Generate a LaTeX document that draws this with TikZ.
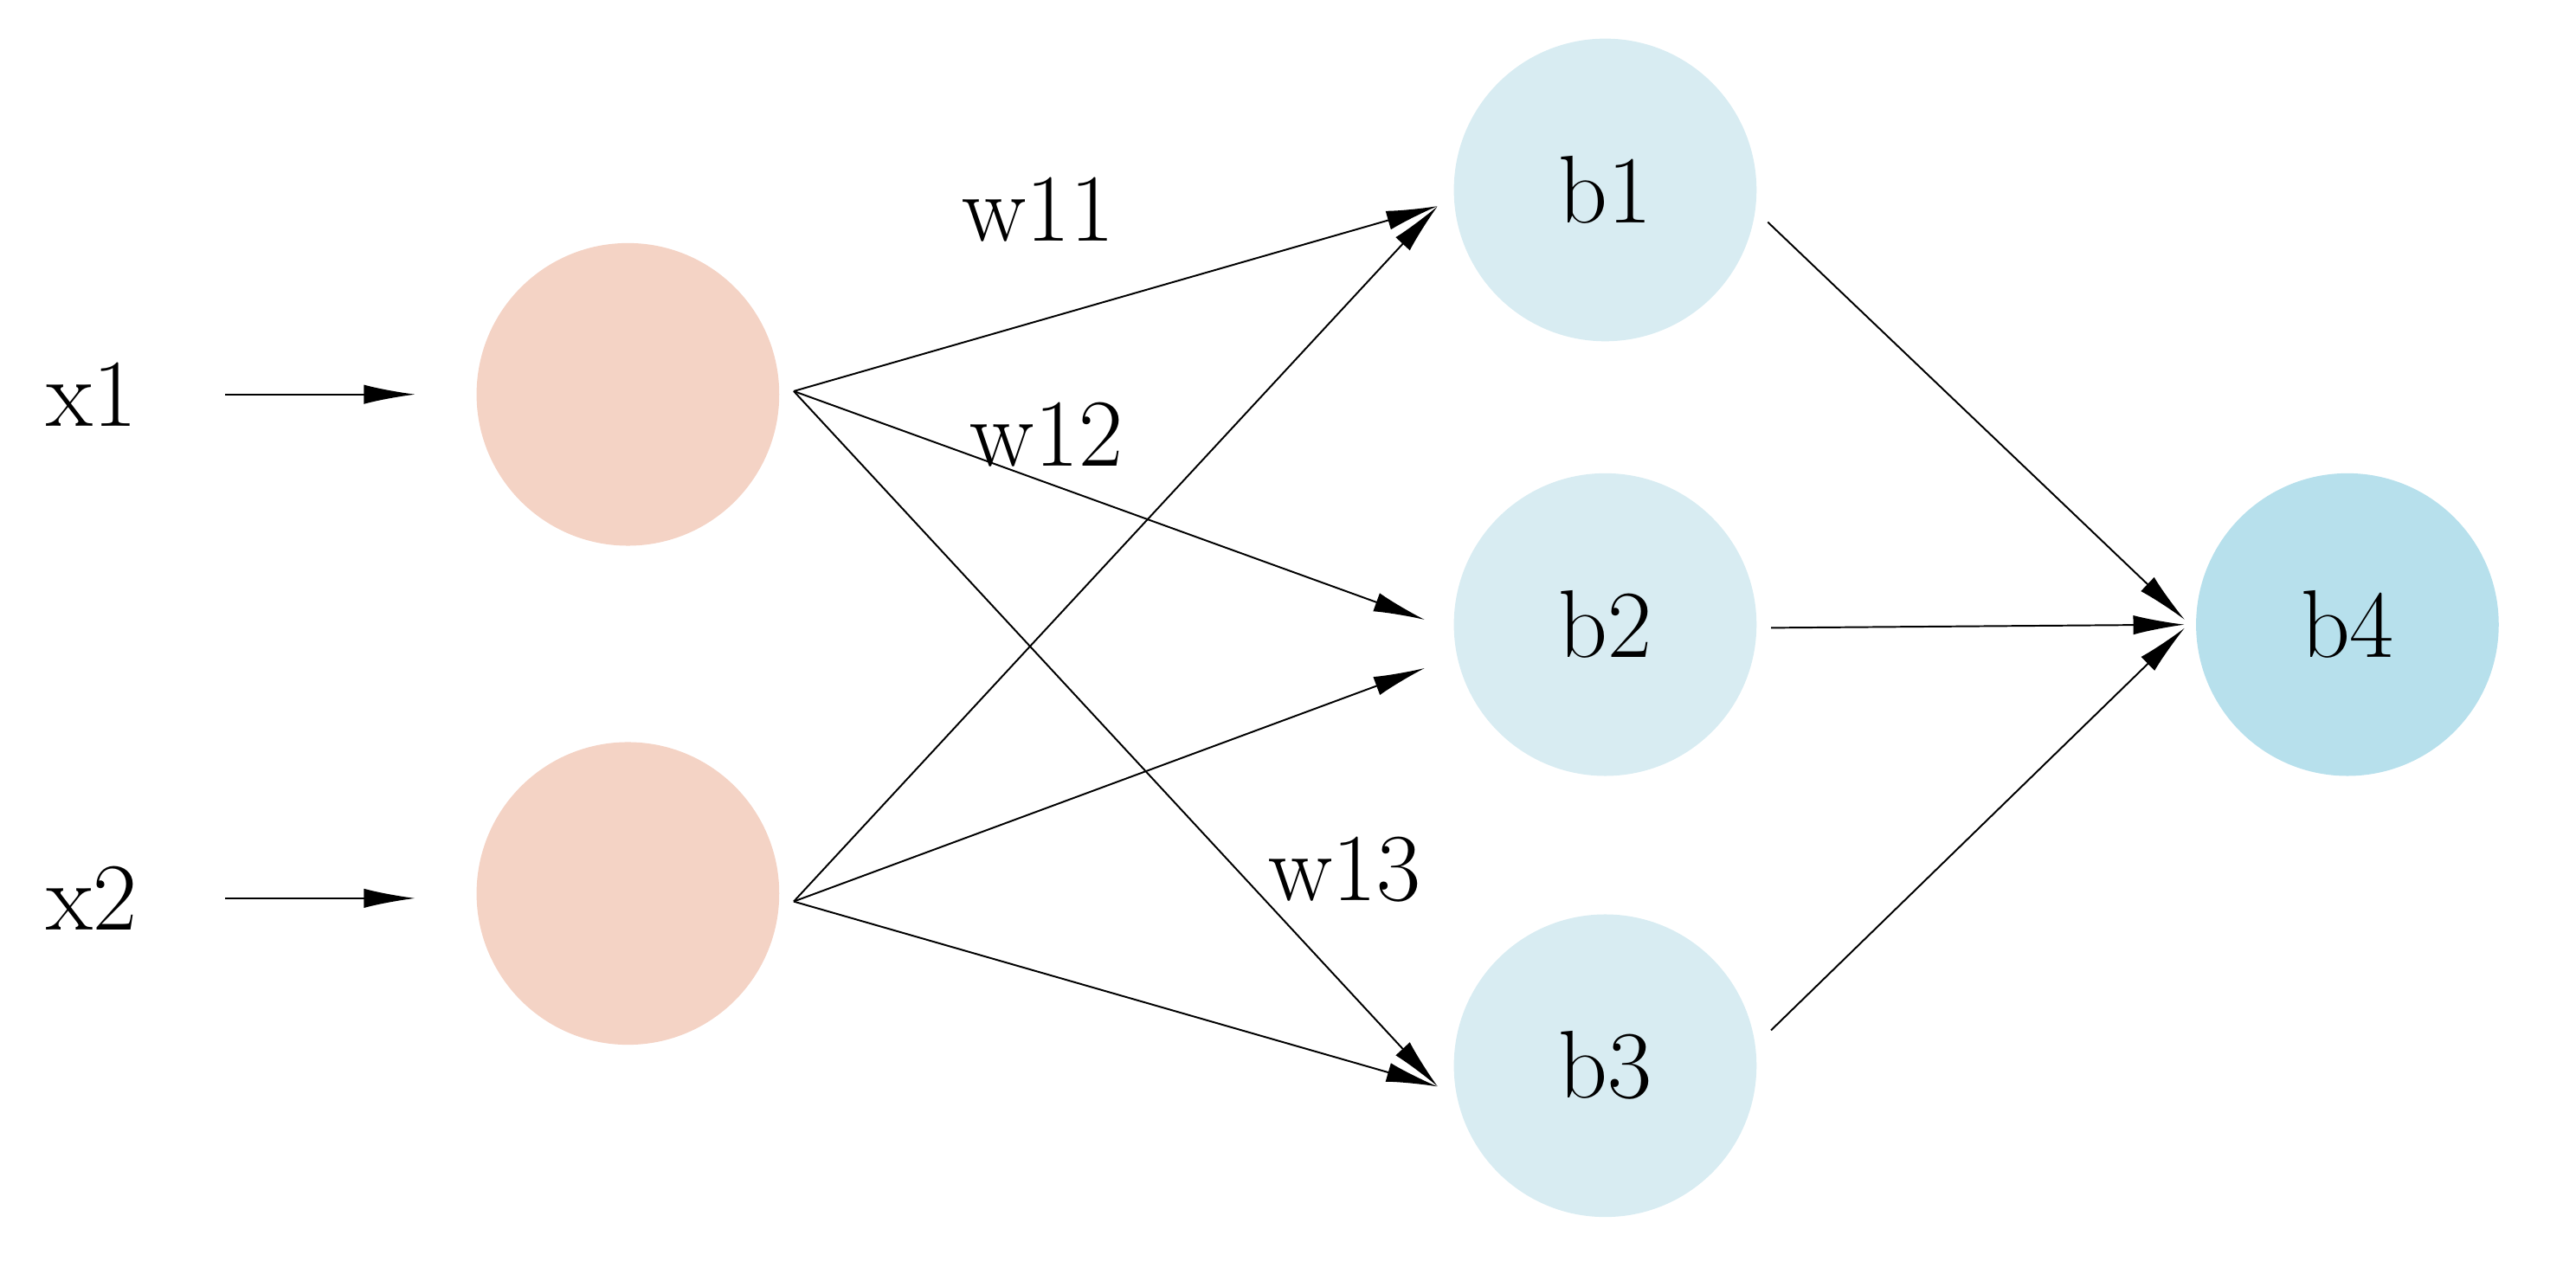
\documentclass[tikz,border=0pt]{standalone}
\usepackage{tikz}
\usetikzlibrary{arrows.meta}
\definecolor{inred}{HTML}{F4D3C5}
\definecolor{hidblue}{HTML}{D8ECF2}
\definecolor{outblue}{HTML}{B7E0EC}
\tikzset{
neuron/.style={circle, minimum size=1.88cm, inner sep=0pt},
edge/.style={-{Latex[length=3.2mm,width=1.2mm]}, line width=0.3pt},
lbl/.style={font=\fontsize{17}{20}\selectfont}
}
\begin{document}
\begin{tikzpicture}
\useasboundingbox (0,0) rectangle (16.0,7.91);
% draws neurons
\node[neuron, fill=inred] (i1) at (3.90,5.46){};
\node[neuron, fill=inred] (i2) at (3.90,2.36){};
\node[neuron, fill=hidblue, lbl] (b1) at (9.97,6.73){b1};
\node[neuron, fill=hidblue, lbl] (b2) at (9.97,4.03){b2};
\node[neuron, fill=hidblue, lbl] (b3) at (9.97,1.29){b3};
\node[neuron, fill=outblue, lbl] (b4) at (14.58,4.03){b4};
% input texts
\node[lbl] (x1) at (0.57,5.46){x1};
\node[lbl] (x2) at (0.57,2.33){x2};
\coordinate (x1e) at (1.40,5.46);
\coordinate (x2e) at (1.40,2.33);
\coordinate (i1s) at (4.93,5.48);
\coordinate (i2s) at (4.93,2.31);
\coordinate (b1a) at (8.93,6.63);
\coordinate (b2a) at (8.85,4.06);
\coordinate (b2b) at (8.85,3.76);
\coordinate (b3a) at (8.93,1.16);
\coordinate (b1o) at (10.98,6.53);
\coordinate (b2o) at (11.00,4.01);
\coordinate (b3o) at (11.00,1.51);
\coordinate (b4a) at (13.57,4.06);
\coordinate (b4b) at (13.57,4.03);
\coordinate (b4c) at (13.57,4.01);
% draws edges
\draw[edge] (x1e) -- ++(1.18,0);
\draw[edge] (x2e) -- ++(1.18,0);
\draw[edge] (i1s) -- (b1a);
\draw[edge] (i1s) -- (b2a);
\draw[edge] (i1s) -- (b3a);
\draw[edge] (i2s) -- (b1a);
\draw[edge] (i2s) -- (b2b);
\draw[edge] (i2s) -- (b3a);
\draw[edge] (b1o) -- (b4a);
\draw[edge] (b2o) -- (b4b);
\draw[edge] (b3o) -- (b4c);
% weight labels
\node[lbl] (w11) at (6.45,6.61){w11};
\node[lbl] (w12) at (6.50,5.21){w12};
\node[lbl] (w13) at (8.35,2.51){w13};
\end{tikzpicture}
\end{document}
